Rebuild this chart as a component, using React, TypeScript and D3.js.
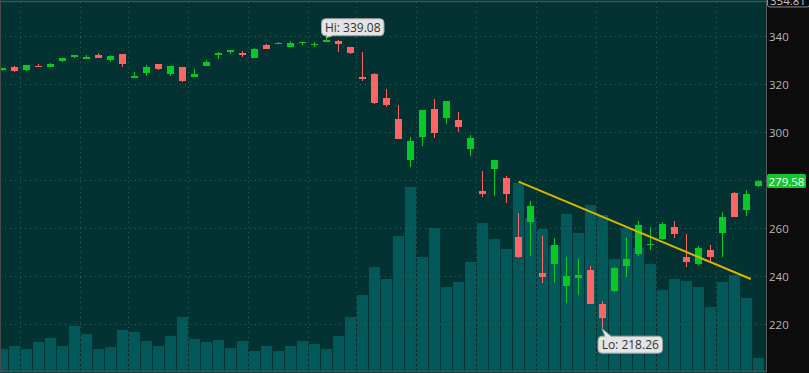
import React from "react";
import * as d3 from "d3";

const OPEN = [325.8,327.2,325.8,327.6,327.0,329.5,331.3,330.5,332.1,330.0,332.4,322.6,324.7,328.3,324.0,327.0,323.1,327.6,332.0,333.5,332.8,331.0,336.25,336.7,335.5,337.2,336.6,337.4,337.8,335.4,323.0,324.2,314.0,305.4,288.3,298.0,309.4,306.0,305.0,293.0,275.4,284.5,281.0,256.1,262.6,241.1,244.9,236.0,239.2,242.6,228.3,233.9,244.3,249.0,253.0,255.3,260.3,248.0,244.9,250.8,257.8,274.4,267.6,277.3];
const HIGH = [326.8,327.4,328.0,328.5,328.9,330.8,332.2,332.1,332.8,332.1,332.6,325.0,327.8,328.5,327.7,327.2,326.1,330.0,333.2,334.3,333.9,334.8,336.8,337.3,337.8,337.7,337.6,339.08,338.3,335.5,333.5,324.5,317.8,311.25,297.8,309.1,313.6,313.0,308.2,298.6,283.75,288.4,281.8,266.4,271.25,256.7,256.0,248.0,247.1,244.2,229.7,243.9,256.1,262.9,260.4,262.5,263.1,257.5,252.3,253.0,266.7,275.0,275.8,279.9];
const LOW = [325.3,325.2,325.6,326.9,326.9,329.2,330.7,330.4,330.7,329.2,327.1,322.5,323.3,326.0,323.5,320.7,323.0,327.5,330.3,332.5,331.4,330.9,334.5,336.6,335.4,336.1,335.3,337.3,333.5,332.5,321.1,311.5,310.6,297.0,285.3,294.2,297.5,303.2,300.0,290.0,273.0,273.5,270.6,247.4,248.3,237.2,237.2,228.75,232.1,228.2,218.26,233.5,239.7,248.5,250.8,255.0,256.0,243.9,244.7,246.25,248.0,264.5,265.0,277.0];
const CLOSE = [326.5,325.5,327.9,327.0,328.3,330.7,332.0,331.25,330.8,331.7,328.3,323.3,327.0,326.25,327.6,321.25,324.2,329.2,333.1,334.2,332.0,334.7,334.7,337.2,337.0,337.6,336.8,338.2,336.8,333.0,322.0,312.2,311.25,297.2,296.25,309.0,299.7,312.9,302.2,297.6,274.2,288.3,274.0,248.0,269.3,239.4,252.9,240.1,240.4,228.3,222.6,243.2,246.9,261.25,253.4,261.7,257.4,246.0,251.8,248.0,264.7,264.7,274.0,279.58];
const VOLUME = [11.3,12.7,11.3,15.0,17.1,12.7,23.6,19.1,11.3,12.4,21.3,20.4,15.5,12.7,18.2,28.2,16.7,15.0,16.1,11.8,15.5,10.1,13.1,10.3,13.1,15.4,13.8,11.3,18.2,28.0,39.7,54.6,48.3,70.9,96.6,59.6,75.0,43.9,46.6,56.9,77.6,69.2,64.1,98.5,80.3,74.5,65.5,82.2,72.4,87.1,81.8,58.7,75.0,64.6,56.1,42.4,48.2,47.1,44.1,33.4,46.4,50.3,38.0,6.7];
const WEEK_STARTS = [2,7,11,16,21,26,30,35,40,45,50,55,60];
const PRICE_TICKS = [340,320,300,280,260,240,220];
const TOP_PRICE = 354.81;
const TREND = [{ i: 43.05, p: 279.3 }, { i: 62.4, p: 238.75 }];

const W = 809, H = 373;
const PLOT_R = 766;
const BG = "#023231";
const UP = "#08c825";
const DOWN = "#ff6464";
const VOLC = "#03595a";
const FONT = "'Open Sans', sans-serif";

function calloutPath(x: number, y: number, w: number, h: number, r: number, b1: number, b2: number, tx: number, ty: number, tailTop: boolean) {
  if (tailTop) {
    return `M${x + r},${y} H${b1} L${tx},${ty} L${b2},${y} H${x + w - r} Q${x + w},${y} ${x + w},${y + r} V${y + h - r} Q${x + w},${y + h} ${x + w - r},${y + h} H${x + r} Q${x},${y + h} ${x},${y + h - r} V${y + r} Q${x},${y} ${x + r},${y} Z`;
  }
  return `M${x + r},${y} H${x + w - r} Q${x + w},${y} ${x + w},${y + r} V${y + h - r} Q${x + w},${y + h} ${x + w - r},${y + h} H${b2} L${tx},${ty} L${b1},${y + h} H${x + r} Q${x},${y + h} ${x},${y + h - r} V${y + r} Q${x},${y} ${x + r},${y} Z`;
}

export default function App() {
  React.useEffect(() => {
    document.body.style.margin = "0";
  }, []);
  const idx = d3.range(OPEN.length);
  const x = d3.scaleBand<number>().domain(idx).range([-4, 764]).padding(0);
  const bw = x.bandwidth();
  const cx = (i: number) => (x(i) as number) + bw / 2;
  const xc = d3.scaleLinear().domain([0, OPEN.length - 1]).range([cx(0), cx(OPEN.length - 1)]);
  const y = d3.scaleLinear().domain([220, 340]).range([324, 36]);
  const yv = d3.scaleLinear().domain([0, 100]).range([370.5, 180.5]);

  const hiI = d3.maxIndex(HIGH);
  const loI = d3.minIndex(LOW);
  const hx = cx(hiI), hy = y(HIGH[hiI]);
  const lx = cx(loI), ly = y(LOW[loI]);
  const trendLine = d3.line<{ i: number; p: number }>().x(d => xc(d.i)).y(d => y(d.p));
  const last = CLOSE[CLOSE.length - 1];
  const visibleTicks = PRICE_TICKS.filter(t => Math.abs(y(t) - y(last)) > 12);

  return (
    <div style={{ position: "fixed", left: 0, top: 0 }}>
      <svg width={W} height={H} style={{ display: "block" }} fontFamily={FONT}>
        <rect x={0} y={0} width={W} height={H} fill={BG} />
        <g>
          {idx.map(i => (
            <rect key={i} x={(x(i) as number) + 0.5} y={yv(VOLUME[i])} width={bw - 1} height={yv(0) - yv(VOLUME[i])} fill={VOLC} shapeRendering="crispEdges" />
          ))}
        </g>
        <g stroke="#3f6b66" strokeWidth={1} strokeDasharray="1,4" opacity={0.8}>
          {PRICE_TICKS.map(t => (
            <line key={t} x1={0} x2={PLOT_R} y1={Math.round(y(t)) + 0.5} y2={Math.round(y(t)) + 0.5} />
          ))}
          {WEEK_STARTS.map(i => (
            <line key={i} x1={(x(i) as number) + 0.5} x2={(x(i) as number) + 0.5} y1={2} y2={371} />
          ))}
        </g>
        <g shapeRendering="crispEdges">
          {idx.map(i => {
            const up = CLOSE[i] >= OPEN[i];
            const c = up ? UP : DOWN;
            const top = y(Math.max(OPEN[i], CLOSE[i]));
            const bot = y(Math.min(OPEN[i], CLOSE[i]));
            return (
              <g key={i}>
                <rect x={cx(i) - 0.5} y={y(HIGH[i])} width={1} height={y(LOW[i]) - y(HIGH[i])} fill={c} />
                <rect x={cx(i) - 3.5} y={top} width={7} height={Math.max(1.5, bot - top)} fill={c} />
              </g>
            );
          })}
        </g>
        <path d={trendLine(TREND) || ""} stroke="#dcb400" strokeWidth={2} fill="none" />
        <path d={calloutPath(hx - 4.5, hy - 19.5, 62.5, 17, 4, hx + 1, hx + 7, hx, hy - 0.5, false)} fill="#e4e4e4" stroke="#a0a0a0" strokeWidth={1} />
        <text x={hx - 4.5 + 31.25} y={hy - 11} textAnchor="middle" dominantBaseline="central" fontSize={12} fill="#333">{`Hi: ${HIGH[hiI].toFixed(2)}`}</text>
        <path d={calloutPath(lx - 4, ly + 8, 64.5, 17, 4, lx + 3, lx + 9, lx, ly + 0.5, true)} fill="#e4e4e4" stroke="#a0a0a0" strokeWidth={1} />
        <text x={lx - 4 + 32.25} y={ly + 16.5} textAnchor="middle" dominantBaseline="central" fontSize={12} fill="#333">{`Lo: ${LOW[loI].toFixed(2)}`}</text>
        <line x1={0} x2={PLOT_R} y1={1.5} y2={1.5} stroke="#3c5553" strokeWidth={1.5} />
        <line x1={0.5} x2={0.5} y1={0} y2={372} stroke="#4a4a4a" strokeWidth={1} />
        <line x1={0} x2={PLOT_R} y1={371.5} y2={371.5} stroke="#4f4f4f" strokeWidth={1.5} />
        <rect x={PLOT_R} y={0} width={W - PLOT_R} height={H} fill="#0c0c0c" />
        <line x1={PLOT_R + 0.5} x2={PLOT_R + 0.5} y1={0} y2={372} stroke="#5a5a5a" strokeWidth={1} />
        {visibleTicks.map(t => (
          <text key={t} x={769} y={y(t)} dominantBaseline="central" fontSize={11.5} fill="#b8b8b8">{t}</text>
        ))}
        <rect x={767.5} y={y(TOP_PRICE) - 7.5} width={42} height={14} rx={2} fill="#0c0c0c" stroke="#8c8c8c" />
        <text x={770} y={y(TOP_PRICE)} dominantBaseline="central" fontSize={11.5} fill="#c4c4c4">{TOP_PRICE.toFixed(2)}</text>
        <rect x={767} y={y(last) - 7} width={39} height={14} rx={2} fill="#12c62c" />
        <text x={786.5} y={y(last)} textAnchor="middle" dominantBaseline="central" fontSize={11.5} fill="#ffffff">{last.toFixed(2)}</text>
      </svg>
    </div>
  );
}
